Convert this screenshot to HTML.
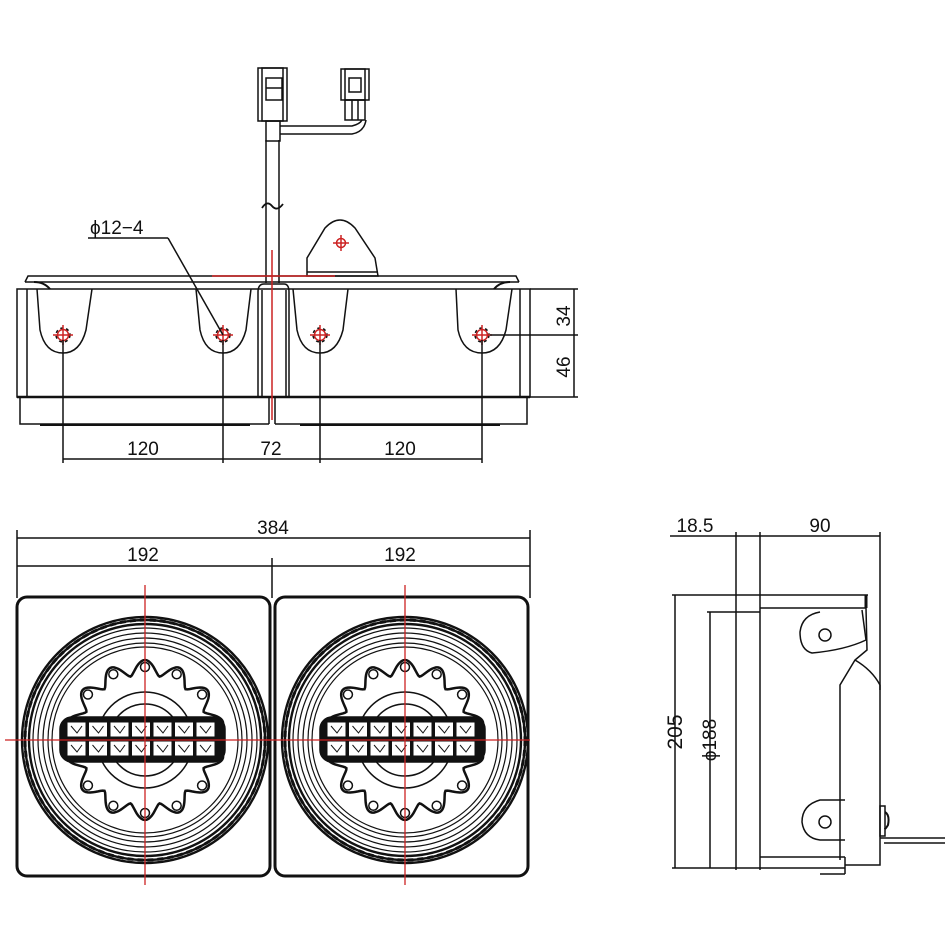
<!DOCTYPE html>
<html><head><meta charset="utf-8"><style>
html,body{margin:0;padding:0;background:#fff;}
svg{display:block;}
text{font-family:"Liberation Sans",sans-serif;fill:#111;}
</style></head><body>
<svg id="s" width="945" height="945" viewBox="0 0 945 945" xmlns="http://www.w3.org/2000/svg" fill="none" stroke="#111" stroke-width="1.5">
<!-- ===== TOP VIEW ===== -->
<rect x="258" y="68" width="29" height="53"/>
<rect x="262" y="68" width="21" height="53"/>
<rect x="266" y="78" width="16" height="22"/>
<line x1="266" y1="88" x2="282" y2="88"/>
<rect x="266" y="121" width="14" height="20"/>
<rect x="341" y="69" width="28" height="31"/>
<rect x="345" y="69" width="20" height="31"/>
<rect x="349" y="78" width="12" height="14"/>
<rect x="345" y="100" width="20" height="20"/>
<line x1="352" y1="100" x2="352" y2="120"/><line x1="358" y1="100" x2="358" y2="120"/>
<path d="M280 126 H352 Q360 124 362 120 M280 134 H352 Q364 132 366 120"/>
<line x1="266" y1="140" x2="266" y2="283"/>
<line x1="279" y1="140" x2="279" y2="283"/>
<path d="M262 208 Q267 200 272 206 T283 204" stroke-width="1.8"/>
<path d="M307 276 L307 258 L325 228 Q340 212 355 228 L375 258 L378 276 Z"/>
<line x1="307" y1="272" x2="378" y2="272"/>
<circle cx="341" cy="243" r="4.5" stroke="#c22"/>
<line x1="333" y1="243" x2="349" y2="243" stroke="#c22"/><line x1="341" y1="235" x2="341" y2="251" stroke="#c22"/>
<path d="M25 282 L28 276 H516 L519 282"/>
<line x1="25" y1="282" x2="519" y2="282"/>
<path d="M34 282 Q44 282 50 289 M510 282 Q500 282 494 289" stroke-width="2"/>
<rect x="17" y="289" width="513" height="108"/>
<line x1="27" y1="289" x2="27" y2="397"/><line x1="520" y1="289" x2="520" y2="397"/>
<line x1="17" y1="397" x2="530" y2="397" stroke-width="2.5"/>
<path d="M20 397 V424 H269 M275 424 H527 V397"/>
<line x1="40" y1="425" x2="250" y2="425" stroke-width="2"/><line x1="300" y1="425" x2="500" y2="425" stroke-width="2"/>
<path d="M258 397 V292 Q258 284 264 284 H284 Q289 284 289 292 V397"/>
<line x1="262" y1="290" x2="262" y2="397"/><line x1="286" y1="290" x2="286" y2="397"/>
<line x1="269" y1="397" x2="269" y2="424"/><line x1="275" y1="397" x2="275" y2="424"/>
<path d="M37 289 L40 330 Q45 353 63 353 Q80 353 86 330 L92 289"/>
<path d="M196 289 L200 330 Q205 353 223 353 Q240 353 246 330 L251 289"/>
<path d="M293 289 L297 330 Q302 353 320 353 Q337 353 343 330 L348 289"/>
<path d="M456 289 L458 330 Q463 353 482 353 Q500 353 506 330 L512 289"/>
<g id="holes"></g>
<line x1="272" y1="250" x2="272" y2="420" stroke="#c22"/>
<line x1="212" y1="276" x2="335" y2="276" stroke="#c22"/>
<line x1="63" y1="340" x2="63" y2="463"/><line x1="223" y1="340" x2="223" y2="463"/>
<line x1="320" y1="340" x2="320" y2="463"/><line x1="482" y1="340" x2="482" y2="463"/>
<line x1="63" y1="459" x2="482" y2="459"/>
<text x="143" y="455" font-size="19" text-anchor="middle" stroke="none">120</text>
<text x="271" y="455" font-size="19" text-anchor="middle" stroke="none">72</text>
<text x="400" y="455" font-size="19" text-anchor="middle" stroke="none">120</text>
<line x1="530" y1="289" x2="578" y2="289"/><line x1="490" y1="335" x2="578" y2="335"/><line x1="530" y1="397" x2="578" y2="397"/>
<line x1="574" y1="289" x2="574" y2="397"/>
<text transform="translate(570,316) rotate(-90)" font-size="19" text-anchor="middle" stroke="none">34</text>
<text transform="translate(570,367) rotate(-90)" font-size="19" text-anchor="middle" stroke="none">46</text>
<text x="90" y="234" font-size="19" stroke="none">ϕ12−4</text>
<line x1="88" y1="238" x2="168" y2="238"/>
<line x1="168" y1="238" x2="223" y2="335"/>

<!-- ===== FRONT VIEW ===== -->
<line x1="17" y1="530" x2="17" y2="598"/><line x1="530" y1="530" x2="530" y2="598"/>
<line x1="272" y1="558" x2="272" y2="598"/>
<line x1="17" y1="538" x2="530" y2="538"/>
<line x1="17" y1="566" x2="530" y2="566"/>
<text x="273" y="534" font-size="19" text-anchor="middle" stroke="none">384</text>
<text x="143" y="561" font-size="19" text-anchor="middle" stroke="none">192</text>
<text x="400" y="561" font-size="19" text-anchor="middle" stroke="none">192</text>
<rect x="17" y="597" width="253" height="279" rx="10" stroke-width="3"/>
<rect x="275" y="597" width="253" height="279" rx="10" stroke-width="3"/>
<g id="lampL"></g><g id="lampR"></g>

<!-- ===== SIDE VIEW ===== -->
<line x1="670" y1="536" x2="880" y2="536"/>
<text x="695" y="532" font-size="19" text-anchor="middle" stroke="none">18.5</text>
<text x="820" y="532" font-size="19" text-anchor="middle" stroke="none">90</text>
<line x1="736" y1="532" x2="736" y2="870"/><line x1="760" y1="532" x2="760" y2="870"/>
<line x1="880" y1="532" x2="880" y2="690"/>
<line x1="672" y1="595" x2="868" y2="595"/>
<line x1="707" y1="612" x2="760" y2="612"/>
<line x1="760" y1="608" x2="866" y2="608"/>
<path d="M866 595 V608" stroke-width="3"/>
<path d="M866 608 L867 650 L855 660 L840 685 V860 M855 660 Q872 670 880 685 V865 H845"/>
<path d="M862 610 L866 640 Q845 650 812 653 Q800 650 800 632 Q802 615 820 612"/>
<circle cx="825" cy="635" r="6"/>
<path d="M845 800 H820 Q802 805 802 822 Q804 838 820 840 H845"/>
<circle cx="825" cy="822" r="6"/>
<line x1="672" y1="868" x2="845" y2="868"/>
<line x1="760" y1="857" x2="845" y2="857"/>
<line x1="820" y1="874" x2="845" y2="874"/>
<line x1="845" y1="857" x2="845" y2="874"/>
<rect x="880" y="806" width="5" height="30"/>
<path d="M885 812 Q890 815 888 825 Q885 830 885 828" stroke-width="2"/>
<path d="M880 838 H945 M884 843 H945"/>
<line x1="675" y1="595" x2="675" y2="868"/>
<line x1="710" y1="612" x2="710" y2="868"/>
<text transform="translate(682,732) rotate(-90)" font-size="21" text-anchor="middle" stroke="none">205</text>
<text transform="translate(716,740) rotate(-90)" font-size="19" text-anchor="middle" stroke="none">ϕ188</text>
</svg>
<script>
var NS="http://www.w3.org/2000/svg";
function el(p,t,a){var e=document.createElementNS(NS,t);for(var k in a)e.setAttribute(k,a[k]);p.appendChild(e);return e;}
var h=document.getElementById('holes');
[63,223,320,482].forEach(function(x){
 el(h,'circle',{cx:x,cy:335,r:5.5,stroke:'#c22','stroke-width':1.5});
 el(h,'circle',{cx:x,cy:335,r:7,stroke:'#111','stroke-width':1.5,'stroke-dasharray':'3 3'});
 el(h,'line',{x1:x-10,y1:335,x2:x+10,y2:335,stroke:'#c22'});
 el(h,'line',{x1:x,y1:325,x2:x,y2:345,stroke:'#c22'});
});
function lamp(g,cx,cy){
 [123,120,116,112,107,102,97,93].forEach(function(r,i){el(g,'circle',{cx:cx,cy:cy,r:r,'stroke-width':i<3?2.4:1.2});});
 el(g,'circle',{cx:cx,cy:cy,r:120,'stroke-width':3,'stroke-dasharray':'6 4'});
 var d='',N=14,M=280;
 for(var i=0;i<=M;i++){var a=i/M*2*Math.PI-Math.PI/2;var ph=(i/M*N)%1;var r=65+15*Math.pow(Math.abs(Math.cos(Math.PI*ph)),1.5);
  d+=(i?'L':'M')+(cx+r*Math.cos(a)).toFixed(1)+' '+(cy+r*Math.sin(a)).toFixed(1);}
 el(g,'path',{d:d+'Z','stroke-width':2.5});
 for(var j=0;j<N;j++){var a=j/N*2*Math.PI-Math.PI/2;el(g,'circle',{cx:cx+73*Math.cos(a),cy:cy+73*Math.sin(a),r:4.5,'stroke-width':1.5});}
 el(g,'circle',{cx:cx,cy:cy,r:48});el(g,'circle',{cx:cx,cy:cy,r:36});
 el(g,'rect',{x:cx-85,y:cy-23,width:165,height:45,rx:12,fill:'#111',stroke:'#111'});
 for(var c=0;c<7;c++)for(var r2=0;r2<2;r2++){
  el(g,'rect',{x:cx-78+c*21.5,y:cy-18+r2*19,width:19,height:15,fill:'#fff',stroke:'#111','stroke-width':1});
  el(g,'path',{d:'M'+(cx-74+c*21.5)+' '+(cy-14+r2*19)+'l6 7 l5 -7',stroke:'#111','stroke-width':1});
 }
 el(g,'line',{x1:cx-140,y1:cy,x2:cx+125,y2:cy,stroke:'#c22','stroke-width':1.3});
 el(g,'line',{x1:cx,y1:cy-155,x2:cx,y2:cy+145,stroke:'#c22','stroke-width':1.3});
}
lamp(document.getElementById('lampL'),145,740);
lamp(document.getElementById('lampR'),405,740);
</script>
</body></html>
